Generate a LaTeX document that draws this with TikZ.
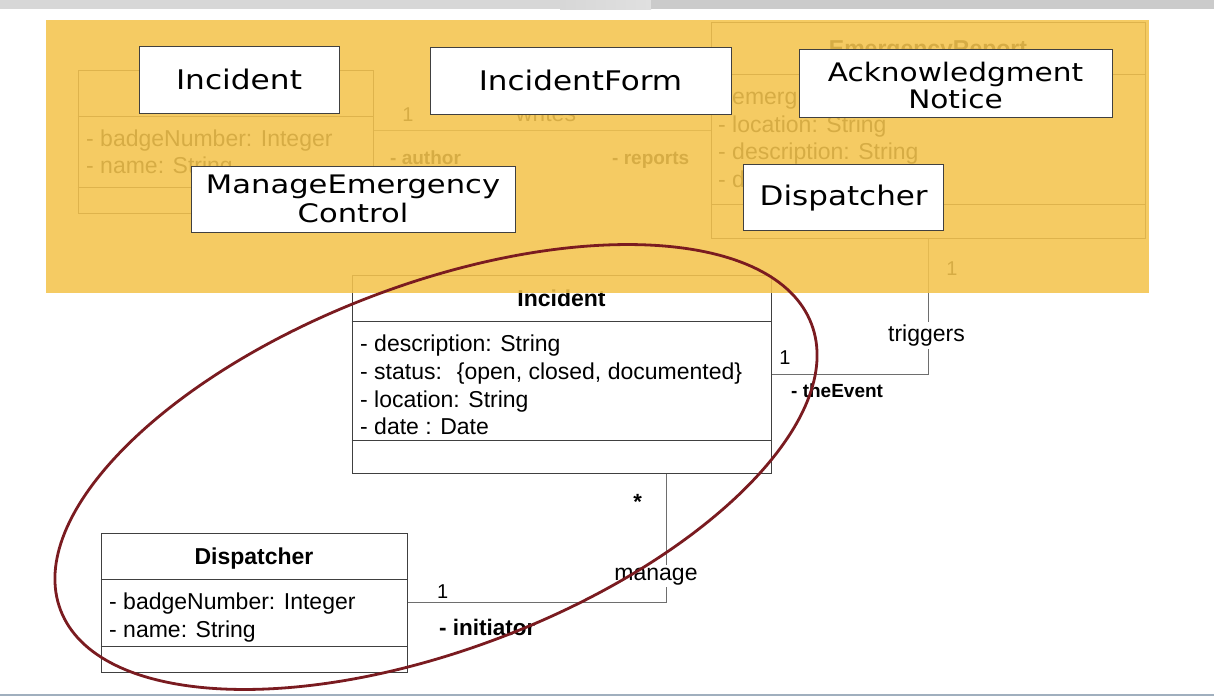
\documentclass[tikz,border=0pt]{standalone}
\usepackage{fontspec}
\usepackage{graphicx}
\setmainfont{Liberation Sans}
\newfontfamily\lblfont{DejaVu Sans}
\definecolor{ovl}{RGB}{244,196,78}
\definecolor{ellc}{RGB}{122,27,32}
\definecolor{boxln}{RGB}{64,64,64}
\definecolor{conn}{RGB}{110,110,110}
\definecolor{barL}{RGB}{215,215,215}
\definecolor{barH}{RGB}{224,224,224}
\definecolor{barR}{RGB}{203,203,203}
\definecolor{botln}{RGB}{160,175,190}
\tikzset{
  attr/.style={anchor=base west, inner sep=0pt, font=\fontsize{23}{27}\selectfont},
  ttl/.style={anchor=base, inner sep=0pt, font=\fontsize{23}{27}\selectfont\bfseries},
  role/.style={anchor=base west, inner sep=0pt, font=\fontsize{19}{23}\selectfont\bfseries},
  mult/.style={anchor=base, inner sep=0pt, font=\fontsize{20}{24}\selectfont},
  asc/.style={anchor=base, inner sep=2.5pt, fill=white, font=\fontsize{23}{27}\selectfont},
  ascplain/.style={anchor=base, inner sep=0pt, font=\fontsize{23}{27}\selectfont},
  cls/.style={draw=boxln, line width=1pt, inner sep=0pt},
  clsline/.style={draw=boxln, line width=1pt},
  connline/.style={draw=conn, line width=1pt},
  lblbox/.style={draw=black!75, line width=1pt, fill=white, inner sep=0pt},
  lblA/.style={font=\lblfont\fontsize{27}{28}\selectfont},
  lblB/.style={font=\lblfont\fontsize{25.5}{28.5}\selectfont}
}
\begin{document}
\begin{tikzpicture}[x=1pt,y=-1pt]
\useasboundingbox (0,0) rectangle (1214,696);
\fill[white] (0,0) rectangle (1214,696);
% top bar
\fill[barL] (0,0) rectangle (560,9);
\shade[left color=barL,right color=barH] (560,0) rectangle (651,9);
\fill[barR] (651,0) rectangle (1214,9);

% ---------- faded background diagram ----------
\node[cls, minimum width=295, minimum height=143] (fo) at (225.5,141.5) {};
\draw[clsline] ([yshift=-47pt]fo.north west) -- ([yshift=-47pt]fo.north east);
\draw[clsline] ([yshift=26pt]fo.south west) -- ([yshift=26pt]fo.south east);
\node[attr] (fo1) at (86,146) {- badgeNumber: Integer};
\node[attr] (fo2) at (86,173) {- name: String};

\node[cls, minimum width=434, minimum height=216] (er) at (928,130) {};
\draw[clsline] ([yshift=-53pt]er.north west) -- ([yshift=-53pt]er.north east);
\draw[clsline] ([yshift=34pt]er.south west) -- ([yshift=34pt]er.south east);
\node[ttl] (ert) at (928,56.5) {EmergencyReport};
\node[attr] (er1) at (718,104) {- emerg};
\node[attr] (er2) at (718,132) {- location: String};
\node[attr] (er3) at (718,159) {- description: String};
\node[attr] (er4) at (718,187) {- d};

\draw[connline] (fo.east |- er.west) -- (er.west);
\node[mult] (m1) at (408,121) {1};
\node[ascplain] (wr) at (546,121) {writes};
\node[role] (au) at (390,164) {- author};
\node[role] (rp) at (612,164) {- reports};
\node[mult] (m2) at (952,275) {1};

% ---------- main diagram ----------
\node[cls, fill=white, minimum width=419, minimum height=198] (inc) at (561.5,374) {};
\draw[clsline] ([yshift=-47pt]inc.north west) -- ([yshift=-47pt]inc.north east);
\draw[clsline] ([yshift=33pt]inc.south west) -- ([yshift=33pt]inc.south east);
\node[ttl] (inct) at (561.5,306) {Incident};
\node[attr] (i1) at (360,351) {- description: String};
\node[attr] (i2) at (360,379) {- status: \ \{open, closed, documented\}};
\node[attr] (i3) at (360,407) {- location: String};
\node[attr] (i4) at (360,434) {- date : Date};

\node[cls, fill=white, minimum width=306, minimum height=139] (dsp) at (254,602.5) {};
\draw[clsline] ([yshift=-47pt]dsp.north west) -- ([yshift=-47pt]dsp.north east);
\draw[clsline] ([yshift=26pt]dsp.south west) -- ([yshift=26pt]dsp.south east);
\node[ttl] (dspt) at (254,564) {Dispatcher};
\node[attr] (d1) at (109,609) {- badgeNumber: Integer};
\node[attr] (d2) at (109,637) {- name: String};

\draw[connline] (inc.east) -| (er.south);
\node[asc] (trg) at (926.5,341.5) {triggers};
\node[mult] (m3) at (785,364) {1};
\node[role] (ev) at (791,397) {- theEvent};

\draw[connline] ([xshift=104.5pt]inc.south) |- (dsp.east);
\node[asc] (mng) at (656,580) {manage};
\node[anchor=base, inner sep=0pt, font=\fontsize{22}{26}\selectfont\bfseries] (st) at (637.7,509) {*};
\node[mult] (m4) at (442.7,598) {1};
\node[anchor=base west, inner sep=0pt, font=\fontsize{22.5}{26}\selectfont\bfseries] (ini) at (439,635) {- initiator};

% ---------- overlay ----------
\fill[ovl, opacity=0.88] (46,20) rectangle (1149,293);

\node[lblbox, minimum width=200, minimum height=67, lblA] (L1) at (239,79.5) {\scalebox{1.157}[1]{Incident}};
\node[lblbox, minimum width=301, minimum height=67, lblA] (L2) at (580.5,80.5) {\scalebox{1.15}[1]{IncidentForm}};
\node[lblbox, minimum width=324, minimum height=66, lblB] (L3) at (353,199) {\raisebox{-3.5pt}[\height][\depth]{\scalebox{1.2}[1]{\begin{tabular}{@{}c@{}}ManageEmergency\\Control\end{tabular}}}};
\node[lblbox, minimum width=313, minimum height=68.5, lblB] (L4) at (955.5,83.3) {\raisebox{-6pt}[\height][\depth]{\scalebox{1.16}[1]{\begin{tabular}{@{}c@{}}Acknowledgment\\[-1.5pt]Notice\end{tabular}}}};
\node[lblbox, minimum width=199.5, minimum height=66.5, lblA] (L5) at (843.7,197.7) {\scalebox{1.148}[1]{Dispatcher}};

% ---------- ellipse ----------
\draw[ellc, line width=2.8pt, rotate around={20.86:(436,467)}] (436,467) ellipse [x radius=401.8, y radius=182.3];

% bottom line
\draw[botln, line width=1.5pt] (0,695) -- (1214,695);
\end{tikzpicture}
\end{document}
